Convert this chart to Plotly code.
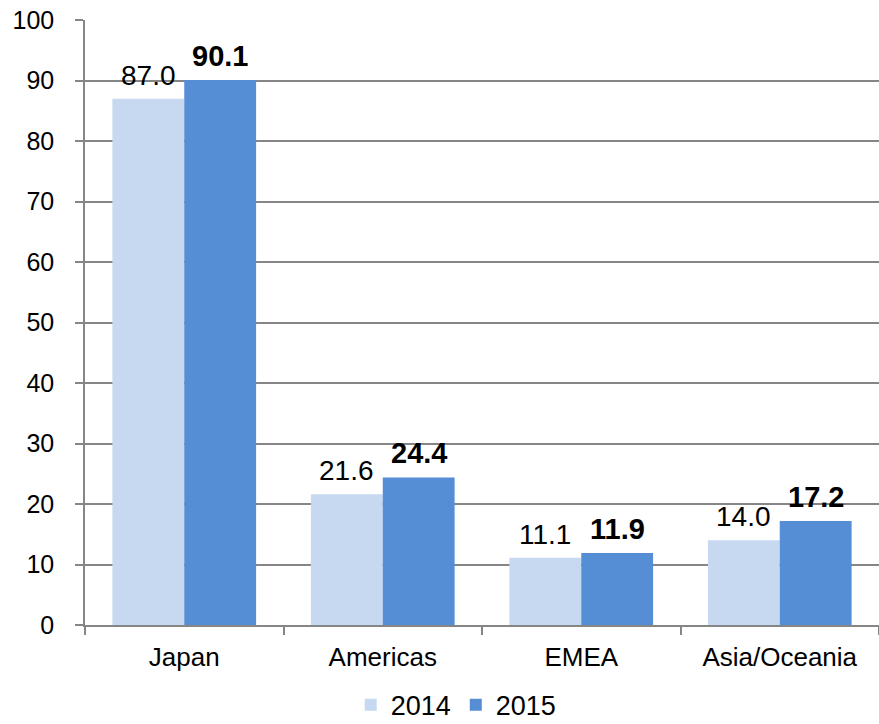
import plotly.graph_objects as go

categories = ["Japan", "Americas", "EMEA", "Asia/Oceania"]
values_2014 = [87.0, 21.6, 11.1, 14.0]
values_2015 = [90.1, 24.4, 11.9, 17.2]
series_names = ["2014", "2015"]
y_ticks = [0, 10, 20, 30, 40, 50, 60, 70, 80, 90, 100]

FONT = "Liberation Sans, Arial, sans-serif"
GRID = "#868686"
BARGAP = 0.276
PLOT_W = 879 - 85
HALF_BAR = PLOT_W / len(categories) * (1 - BARGAP) / 4

fig = go.Figure()
fig.add_trace(go.Bar(
    x=categories, y=values_2014, name=series_names[0],
    marker=dict(color="#C6D9F1", line=dict(width=0)),
))
fig.add_trace(go.Bar(
    x=categories, y=values_2015, name=series_names[1],
    marker=dict(color="#558ED5", line=dict(width=0)),
))

annotations = []
for cat, v in zip(categories, values_2014):
    annotations.append(dict(
        x=cat, y=v, xref="x", yref="y", text=f"{v:.1f}", showarrow=False,
        xshift=-HALF_BAR, yshift=6, xanchor="center", yanchor="bottom",
        font=dict(family=FONT, size=28, color="#000000"),
    ))
for cat, v in zip(categories, values_2015):
    annotations.append(dict(
        x=cat, y=v, xref="x", yref="y", text=f"<b>{v:.1f}</b>", showarrow=False,
        xshift=HALF_BAR, yshift=6, xanchor="center", yanchor="bottom",
        font=dict(family=FONT, size=29, color="#000000"),
    ))

fig.update_layout(
    width=879, height=724,
    margin=dict(l=85, r=0, t=20, b=99, autoexpand=False),
    paper_bgcolor="white", plot_bgcolor="white",
    barmode="group", bargap=BARGAP, bargroupgap=0,
    font=dict(family=FONT, size=24, color="#000000"),
    showlegend=True,
    annotations=annotations,
    legend=dict(
        orientation="h", xref="container", yref="container",
        x=0.519, xanchor="center", y=0.026, yanchor="middle",
        font=dict(family=FONT, size=27, color="#000000"),
        itemwidth=30, tracegroupgap=0,
    ),
    xaxis=dict(
        type="category", showgrid=False,
        showline=True, linecolor=GRID, linewidth=1.5,
        ticks="outside", tickson="boundaries", ticklen=8, tickcolor=GRID, tickwidth=1.5,
        tickfont=dict(family=FONT, size=26),
        ticklabelstandoff=8,
    ),
    yaxis=dict(
        range=[0, 100], tickvals=y_ticks,
        showgrid=True, gridcolor=GRID, gridwidth=1.5,
        showline=True, linecolor=GRID, linewidth=1.5,
        ticks="outside", ticklen=8, tickcolor=GRID, tickwidth=1.5,
        tickfont=dict(family=FONT, size=25),
        ticklabelstandoff=16,
        zeroline=False,
    ),
)

fig.write_html("out.html")
